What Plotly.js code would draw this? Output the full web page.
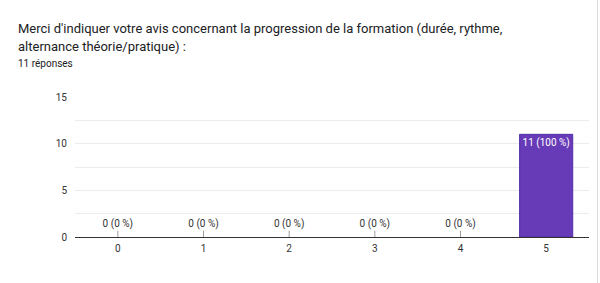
<!DOCTYPE html>
<html><head><meta charset="utf-8">
<script src="https://cdn.plot.ly/plotly-3.0.1.min.js"></script>
<style>html,body{margin:0;padding:0;background:#fff;}#c{width:600px;height:283px;position:relative;}#edge{position:absolute;left:597px;top:0;width:1px;height:283px;background:#dadce0;z-index:5;}</style>
</head><body><div id="c"><div id="edge"></div></div>
<script>
const categories = ['0','1','2','3','4','5'];
const counts = [0,0,0,0,0,11];
const labels = ['0 (0 %)','0 (0 %)','0 (0 %)','0 (0 %)','0 (0 %)','11 (100 %)'];
const titleLine1 = "Merci d'indiquer votre avis concernant la progression de la formation (durée, rythme,";
const titleLine2 = "alternance théorie/pratique) :";
const subtitle = "11 réponses";
const yTicks = [0,2.5,5,7.5,10,12.5,15];
const yTickText = ['0','','5','','10','','15'];

const zeroCats = categories.filter((c,i)=>counts[i]===0);
const zeroVals = counts.filter(v=>v===0);
const zeroLabels = labels.filter((l,i)=>counts[i]===0);
const barCats = categories.filter((c,i)=>counts[i]>0);
const barVals = counts.filter(v=>v>0);
const barLabels = labels.filter((l,i)=>counts[i]>0);

const font = 'Roboto, Arial, sans-serif';
const data = [
  {type:'bar', x:barCats, y:barVals, text:barLabels, textposition:'inside', insidetextanchor:'end', textangle:0,
   textfont:{family:font,size:10,color:'#ffffff'}, width:0.62,
   marker:{color:'#673ab7', line:{color:'#512da8', width:1}}, hoverinfo:'none', constraintext:'none'},
  {type:'scatter', mode:'markers', x:zeroCats, y:zeroVals,
   marker:{symbol:'line-ns-open', size:9, color:'#9e9e9e', line:{color:'#9e9e9e', width:1}},
   cliponaxis:true, hoverinfo:'none'},
  {type:'scatter', mode:'markers+text', x:zeroCats, y:zeroVals, text:zeroLabels, textposition:'top center',
   marker:{size:11, opacity:0}, textfont:{family:font,size:10,color:'#333333'}, cliponaxis:false, hoverinfo:'none'}
];
const W = 514, H = 140;
const layout = {
  width:600, height:283, margin:{l:75,r:11,t:97,b:46}, showlegend:false,
  paper_bgcolor:'#fff', plot_bgcolor:'#fff', font:{family:font,size:10,color:'#444'},
  xaxis:{type:'category', categoryarray:categories, categoryorder:'array', range:[-0.5,5.5], showgrid:false,
         showline:true, linecolor:'#333', linewidth:1, ticks:'', ticklabelstandoff:2, tickfont:{family:font,size:10,color:'#333'}, fixedrange:true, zeroline:false},
  yaxis:{range:[0,15], tickvals:yTicks, ticktext:yTickText, showgrid:true, gridcolor:'#ececec', zeroline:false, showline:false,
         ticks:'', ticklabelstandoff:7, tickfont:{family:font,size:10,color:'#333'}, fixedrange:true},
  annotations:[
    {xref:'paper', yref:'paper', x:(16-75)/W, y:1+(97-28)/H, xanchor:'left', yanchor:'middle', showarrow:false, text:titleLine1, font:{family:font,size:13,color:'#202124'}},
    {xref:'paper', yref:'paper', x:(16-75)/W, y:1+(97-47)/H, xanchor:'left', yanchor:'middle', showarrow:false, text:titleLine2, font:{family:font,size:13,color:'#202124'}},
    {xref:'paper', yref:'paper', x:(16-75)/W, y:1+(97-64)/H, xanchor:'left', yanchor:'middle', showarrow:false, text:subtitle, font:{family:font,size:10,color:'#202124'}}
  ]
};
Plotly.newPlot('c', data, layout, {displayModeBar:false, staticPlot:true});
</script></body></html>
